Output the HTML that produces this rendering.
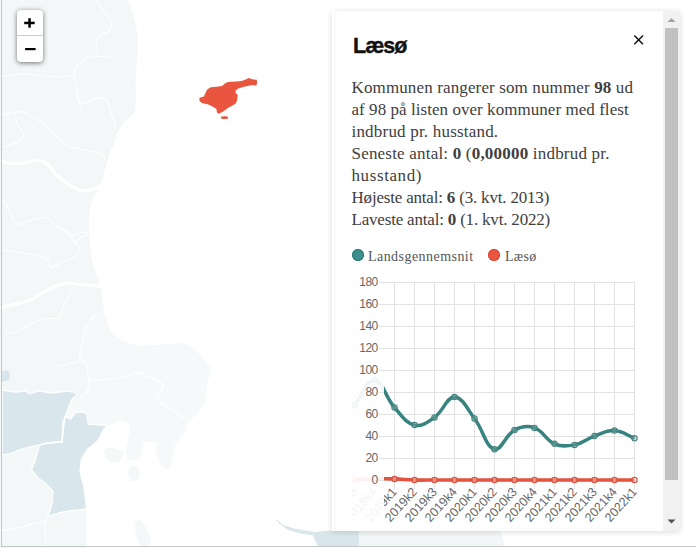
<!DOCTYPE html>
<html><head><meta charset="utf-8">
<style>
html,body{margin:0;padding:0;width:696px;height:548px;overflow:hidden;background:#fff;}
body{position:relative;font-family:"Liberation Sans",sans-serif;}
#map{position:absolute;left:0;top:0;width:696px;height:548px;}
.frameL{position:absolute;left:1px;top:0;width:1px;height:547px;background:#c4c8c9;}
.frameB{position:absolute;left:1px;top:546px;width:695px;height:1px;background:#c4c8c9;}
.zoom{position:absolute;left:17px;top:10px;width:26px;height:52px;background:#fff;border-radius:4px;box-shadow:0 1px 5px rgba(0,0,0,0.55);}
.zoom .div{position:absolute;left:0;top:25px;width:26px;height:1px;background:#ccc;}
.panel{position:absolute;left:332px;top:11px;width:348px;height:520px;background:#fff;box-shadow:0 1px 6px rgba(0,0,0,0.15);overflow:hidden;}
.title{position:absolute;left:21px;top:23px;font:bold 21.5px/24px "Liberation Sans",sans-serif;color:#111;letter-spacing:-1px;white-space:nowrap;-webkit-text-stroke:0.35px #111;}
.body{position:absolute;left:19.5px;top:66px;font:17px/22px "Liberation Serif",serif;color:#404040;white-space:nowrap;}
.body b{font-weight:bold;}
.sb{position:absolute;left:331px;top:0;width:17px;height:520px;background:#f1f1f1;}
.thumb{position:absolute;left:2px;top:17px;width:13px;height:452px;background:#c1c1c1;}
.legend{position:absolute;font:14px/18px "Liberation Serif",serif;color:#555;white-space:nowrap;}
</style></head><body>
<svg id="map" width="696" height="548" viewBox="0 0 696 548">
<polygon points="0,0 128,0 134.5,20 138,37 137,60 135.6,80 136,100 135,110 130,117 124,122 117,133 114,144 110,152 108.4,157 106,165.6 103,176.6 99.7,187.5 93,198.5 90,209.4 88.5,220 89.7,240 92,260 96.5,275 101,290 103.4,305 104,313 110,331 121,340.6 137.5,346 160.5,345 179,343 190,345 197,352 205,361 211,369 208.7,377 206.4,386.6 206,393 204,404.5 195,416 188,420.6 185.7,429.8 181,436.7 175.4,443.6 173,457 169.7,469 165,469 159,462 156,450 158,443 150,441.5 143,442 141.5,452 139,460 133,461 127,459 126,450 128,441 130,432 130.6,425 123.7,420.6 116.8,421.7 110,424.5 107.5,425.5 103.6,429.4 101,434.5 98.5,439.6 93.4,444.7 88.3,448.5 84.5,453.6 81.3,460 80,470 81,475.7 83.8,486.5 85,494.6 86.5,508 86.5,548 0,548" fill="#f3f7f8"/>
<polygon points="94.5,313.8 104,313 110,331 121,340.6 137.5,346 160.5,345 179,343 190,345 197,352 205,361 211,369 208.7,377 206.4,386.6 206,393 204,404.5 195,416 188,420.6 185.7,429.8 181,436.7 175.4,443.6 173,457 169.7,469 165,469 159,462 156,450 158,443 150,441.5 143,442 141.5,452 139,460 133,461 127,459 126,450 128,441 130,432 130.6,425 123.7,420.6 116.8,421.7 110,424.5 107.5,425.5 101,425 93.4,424.3 88.3,424.3 87,414 82,412 75.5,412.8 70.4,419 65.3,416.6 69,406.4 72,399 80.5,397.5 86,393 89,387.5 89,378.9 87.6,373 86.2,364.5 79.7,358.7 80.5,350 81.8,341.4 85.3,327.6" fill="#f6f9fa"/>
<polygon points="104,450 110,447 117,449 123,451 123,457 119,462 112,463 106,459" fill="#f5f8f9"/>
<polygon points="129,468 134,465 139,468 140,475 137,481 131,481 128,475" fill="#f5f8f9"/>
<polygon points="134,522 140,520 147,528 151,540 150,546 140,546 136,535" fill="#f5f8f9"/>
<polygon points="2,390 16,392 25,390.8 30,394 39,390.8 50.6,393 60,392 66.7,390.8 73.6,392 78,394 72,399 69,406.4 65.3,416.6 62.8,421.7 62,442 59,442 47,443 39.4,445 29.5,446.9 19.7,449.8 9.8,453.8 2,454.8" fill="#d9e6eb"/>
<polygon points="65.3,416.6 70.4,419 75.5,412.8 82,412 87,414 88.3,424.3 93.4,424.3 101,425 107.5,425.5 103.6,429.4 101,434.5 98.5,439.6 93.4,444.7 88.3,448.5 84.5,453.6 81.3,460 80,470 81,475.7 83.8,486.5 85,494.6 86.6,508.9 78.7,509.9 68.9,510.9 59,512.8 47.2,516.8 49.2,512.8 52,503 53,491.2 45.3,483.3 37.4,477.4 31.5,469.5 35.4,459.7 39.4,445 47,443 59,442 62,442" fill="#d9e6eb"/>
<polygon points="2,371 8,370 10,374 9,380 2,382" fill="#d9e6eb"/>
<polyline points="94.5,313.8 85.3,327.6 81.8,341.4 80.5,350 79.7,358.7 77.6,361.6 67.5,364.5 58,366.5" fill="none" stroke="#fff" stroke-width="1.1" stroke-linejoin="round"/>
<polyline points="79.7,358.7 86.2,364.5 87.6,373 89,378.9 94.8,380.3 106,379.3 119.8,378.2 133.6,373.6 140.5,372.4 145,375.9 156.6,379.3 163.4,385 161,392 156.6,396.6 161,403.4 170.3,408 179.5,415 186,420" fill="none" stroke="#fff" stroke-width="1.1" stroke-linejoin="round"/>
<polyline points="89,378.9 89,387.5 86,393 80.5,397.5" fill="none" stroke="#fff" stroke-width="1.1" stroke-linejoin="round"/>
<polyline points="97,0 100,6 106,14 111,22 112,28 108,32 100,35 97,38 96,44 97,52 98,56 108,57 112,58" fill="none" stroke="#fff" stroke-width="1.1" stroke-linejoin="round"/>
<polyline points="98,56 90,57 83,59 82,62 76,66 74,70 74,76 76,84 78,94 80,104 82,110" fill="none" stroke="#fff" stroke-width="1.1" stroke-linejoin="round"/>
<polyline points="2,76 9,76 23,73.5 46,76 64,77 74,75" fill="none" stroke="#fff" stroke-width="1.1" stroke-linejoin="round"/>
<polyline points="76,95 79,102 86,103.6 96.5,97.6 107,100 110,108.8 113.8,120.9 116,130" fill="none" stroke="#fff" stroke-width="1.1" stroke-linejoin="round"/>
<polyline points="3,114 7,114 15.5,112 24,112 31,116.6 39.7,120.9 46.6,126 51.7,133 58.6,138 69,146.7 76,148.4 86,150 96.5,152 103.4,155 105,160.5" fill="none" stroke="#fff" stroke-width="1.1" stroke-linejoin="round"/>
<polyline points="15.5,114 17,124 22.4,131 24,136.4 19,141.6 10,145 3.4,146.7" fill="none" stroke="#fff" stroke-width="1.1" stroke-linejoin="round"/>
<polyline points="3,201 8,207.4 12.6,220 20.5,224.8 27,221.6 36.4,218.5 45.8,217 50.6,220 57,226.4 66.4,231 71,237.4 79,232.7 88.5,232.7" fill="none" stroke="#fff" stroke-width="1.1" stroke-linejoin="round"/>
<polyline points="3.3,249.7 16.4,252 24.6,253 32.8,254.6 41,257 47.6,258 49,266 52.5,267.8 60.8,262.8 69,259.6 77,254.6 80.5,249.7 75.5,243 70.6,236.6 67.3,230" fill="none" stroke="#fff" stroke-width="1.1" stroke-linejoin="round"/>
<polyline points="75.5,243 82,236.6 88.7,235" fill="none" stroke="#fff" stroke-width="1.1" stroke-linejoin="round"/>
<polyline points="72.2,290.8 67.3,299 62.4,308.8 59,318.7 46,318.4 32,323 18.4,331 4.6,334.5" fill="none" stroke="#fff" stroke-width="1.1" stroke-linejoin="round"/>
<polyline points="0,530.5 9.8,529.6 19.7,527.6 29.5,524.6 39.4,522.7 45.3,520.7 47.2,516.8" fill="none" stroke="#fff" stroke-width="1.1" stroke-linejoin="round"/>
<polyline points="45.3,520.7 45.3,534.5 46.3,548" fill="none" stroke="#fff" stroke-width="1.1" stroke-linejoin="round"/>
<polyline points="2,390 16,392 25,390.8 30,394 39,390.8 50.6,393 60,392 66.7,390.8 73.6,392 78,394 72,399 69,406.4 65.3,416.6 62.8,421.7 62,442 59,442 47,443 39.4,445 29.5,446.9 19.7,449.8 9.8,453.8 2,454.8 2,390" fill="none" stroke="#fff" stroke-width="1.3" stroke-linejoin="round"/>
<polyline points="65.3,416.6 70.4,419 75.5,412.8 82,412 87,414 88.3,424.3 93.4,424.3 101,425 107.5,425.5 103.6,429.4 101,434.5 98.5,439.6 93.4,444.7 88.3,448.5 84.5,453.6 81.3,460 80,470 81,475.7 83.8,486.5 85,494.6 86.6,508.9 78.7,509.9 68.9,510.9 59,512.8 47.2,516.8 49.2,512.8 52,503 53,491.2 45.3,483.3 37.4,477.4 31.5,469.5 35.4,459.7 39.4,445 47,443 59,442 62,442 65,416" fill="none" stroke="#fff" stroke-width="1.3" stroke-linejoin="round"/>
<polyline points="0,160 7,163 14,164 22,163.5 29,161.5 36,160 41,160.5 47,164 52,169 55.3,174 63.2,180.5 71,186 79,190 88.5,190.8 94.8,189 101,186" fill="none" stroke="#fff" stroke-width="3.2" stroke-linejoin="round" stroke-linecap="round"/>
<polyline points="0,307.5 3.3,307 13,304.7 24.6,302 32.8,299 42.7,292.4 49.3,289 55.8,285.8 62.4,284.2 69,282.5 77,284.2 85.4,285 95.2,285.8 103,286.6" fill="none" stroke="#fff" stroke-width="3.2" stroke-linejoin="round" stroke-linecap="round"/>
<polygon points="358,531 500,531 505,546 358,546" fill="#f2f6f7"/>
<polygon points="275.5,519.5 277,519.5 283,525 294.5,528.5 306,530.8 315,532 326.7,530.8 340,530 359,530 358.5,546 318,546 317,544.5 313,535.3 300,533.5 288,530 279,523" fill="#d9e6eb"/>
<polygon points="199.2,98.7 200.3,97.6 203.8,96.4 207.2,89.5 210.7,87.2 216.4,86.7 222.2,86.1 224.5,83.8 227.9,82.1 236,81.5 241.7,80.9 246.3,79.2 248.6,78 252,79.2 256.7,79.8 257.2,82.6 256.1,86.1 254.4,84.9 249.8,85.5 244,86.7 238.3,88.4 235.4,90.7 236,93.6 237.7,94.7 237.1,99.9 236,103.3 232.5,105.6 227.9,107.9 223.3,111.4 218.7,113.7 217,112.5 216.4,109.1 213,106.8 208.4,104.5 202.6,103.3 199.8,101.6" fill="#e9553f"/>
<ellipse cx="224.5" cy="117.7" rx="3.6" ry="1.4" fill="#e9553f"/>
</svg>
<div class="frameL"></div><div class="frameB"></div>
<div class="zoom"><div class="div"></div>
<svg width="26" height="52" style="position:absolute;left:0;top:0">
<rect x="7.2" y="11.7" width="10.5" height="2.5" fill="#000"/>
<rect x="11.3" y="8.2" width="2.5" height="9.5" fill="#000"/>
<rect x="8.1" y="38" width="10.5" height="2.2" fill="#000"/>
</svg>
</div>
<div class="panel"><div style="position:absolute;left:2px;top:0;width:1px;height:520px;background:#f4f4f4"></div>
<div class="title">Læsø</div>
<svg width="20" height="20" style="position:absolute;left:298px;top:20px" viewBox="0 0 20 20"><path d="M4.3,4.5 L13,13.3 M13,4.5 L4.3,13.3" stroke="#111" stroke-width="1.5" fill="none"/></svg>
<div class="body"><div style="letter-spacing:0.13px">Kommunen rangerer som nummer <b>98</b> ud</div><div style="letter-spacing:0.05px">af 98 på listen over kommuner med flest</div><div style="letter-spacing:0.2px">indbrud pr. husstand.</div><div style="letter-spacing:0.2px">Seneste antal: <b>0</b> (<b>0,00000</b> indbrud pr.</div><div style="letter-spacing:0.6px">husstand)</div><div style="letter-spacing:-0.19px">Højeste antal: <b>6</b> (3. kvt. 2013)</div><div style="letter-spacing:-0.19px">Laveste antal: <b>0</b> (1. kvt. 2022)</div></div>
<div class="sb"><div class="thumb"></div>
<svg width="17" height="520" style="position:absolute;left:0;top:0"><path d="M4.5,11 L8.5,7 L12.5,11 Z" fill="#a3a3a3"/><path d="M4.5,508.5 L8.5,512.5 L12.5,508.5 Z" fill="#505050"/></svg>
</div>
</div>
<svg id="chart" width="696" height="548" viewBox="0 0 696 548" style="position:absolute;left:0;top:0">
<defs><clipPath id="cc"><rect x="352" y="260" width="290" height="270"/></clipPath><clipPath id="pa"><rect x="352" y="270" width="284" height="220"/></clipPath></defs>
<g clip-path="url(#cc)">
<g fill="#e2e2e2"><rect x="352" y="282" width="283" height="1"/><rect x="352" y="304" width="283" height="1"/><rect x="352" y="326" width="283" height="1"/><rect x="352" y="348" width="283" height="1"/><rect x="352" y="370" width="283" height="1"/><rect x="352" y="392" width="283" height="1"/><rect x="352" y="414" width="283" height="1"/><rect x="352" y="436" width="283" height="1"/><rect x="352" y="458" width="283" height="1"/><rect x="352" y="480" width="283" height="1"/><rect x="354" y="282" width="1" height="207"/><rect x="374" y="282" width="1" height="207"/><rect x="394" y="282" width="1" height="207"/><rect x="414" y="282" width="1" height="207"/><rect x="434" y="282" width="1" height="207"/><rect x="454" y="282" width="1" height="207"/><rect x="474" y="282" width="1" height="207"/><rect x="494" y="282" width="1" height="207"/><rect x="514" y="282" width="1" height="207"/><rect x="534" y="282" width="1" height="207"/><rect x="554" y="282" width="1" height="207"/><rect x="574" y="282" width="1" height="207"/><rect x="594" y="282" width="1" height="207"/><rect x="614" y="282" width="1" height="207"/><rect x="634" y="282" width="1" height="207"/></g>
<g clip-path="url(#pa)">
<path d="M354.5,405.3 C362.5,395.2 366.7,379.7 374.5,380.1 C382.7,380.6 385.5,397.5 394.5,407.5 C401.5,415.5 405.6,422.9 414.5,425.1 C421.6,426.9 427.6,422.2 434.5,417.4 C443.6,411.0 446.6,396.9 454.5,397.1 C462.6,397.3 467.4,409.3 474.5,418.5 C483.4,430.1 485.4,446.6 494.5,449.3 C501.4,451.2 505.2,435.0 514.5,430.1 C521.2,426.4 527.5,425.4 534.5,427.9 C543.5,430.9 545.5,440.0 554.5,443.8 C561.5,446.8 566.8,446.3 574.5,444.9 C582.8,443.3 586.3,439.0 594.5,436.1 C602.3,433.3 606.6,430.2 614.5,430.6 C622.6,431.0 626.5,435.2 634.5,438.3" fill="none" stroke="#37837f" stroke-width="3.5"/>
<path d="M354.5,480.0 C362.5,479.6 366.5,479.1 374.5,478.9 C382.5,478.7 386.5,478.7 394.5,478.9 C402.5,479.1 406.5,479.8 414.5,480.0 C422.5,480.2 426.5,480.0 434.5,480.0 C442.5,480.0 446.5,480.0 454.5,480.0 C462.5,480.0 466.5,480.0 474.5,480.0 C482.5,480.0 486.5,480.0 494.5,480.0 C502.5,480.0 506.5,480.0 514.5,480.0 C522.5,480.0 526.5,480.0 534.5,480.0 C542.5,480.0 546.5,480.0 554.5,480.0 C562.5,480.0 566.5,480.0 574.5,480.0 C582.5,480.0 586.5,480.0 594.5,480.0 C602.5,480.0 606.5,480.0 614.5,480.0 C622.5,480.0 626.5,480.0 634.5,480.0" fill="none" stroke="#e4533f" stroke-width="3.6"/>
</g>
<circle cx="354.5" cy="405.3" r="2.7" fill="rgba(120,180,176,0.35)" stroke="#4a817e" stroke-width="1.1"/>
<circle cx="374.5" cy="380.1" r="2.7" fill="rgba(120,180,176,0.35)" stroke="#4a817e" stroke-width="1.1"/>
<circle cx="394.5" cy="407.5" r="2.7" fill="rgba(120,180,176,0.35)" stroke="#4a817e" stroke-width="1.1"/>
<circle cx="414.5" cy="425.1" r="2.7" fill="rgba(120,180,176,0.35)" stroke="#4a817e" stroke-width="1.1"/>
<circle cx="434.5" cy="417.4" r="2.7" fill="rgba(120,180,176,0.35)" stroke="#4a817e" stroke-width="1.1"/>
<circle cx="454.5" cy="397.1" r="2.7" fill="rgba(120,180,176,0.35)" stroke="#4a817e" stroke-width="1.1"/>
<circle cx="474.5" cy="418.5" r="2.7" fill="rgba(120,180,176,0.35)" stroke="#4a817e" stroke-width="1.1"/>
<circle cx="494.5" cy="449.3" r="2.7" fill="rgba(120,180,176,0.35)" stroke="#4a817e" stroke-width="1.1"/>
<circle cx="514.5" cy="430.1" r="2.7" fill="rgba(120,180,176,0.35)" stroke="#4a817e" stroke-width="1.1"/>
<circle cx="534.5" cy="427.9" r="2.7" fill="rgba(120,180,176,0.35)" stroke="#4a817e" stroke-width="1.1"/>
<circle cx="554.5" cy="443.8" r="2.7" fill="rgba(120,180,176,0.35)" stroke="#4a817e" stroke-width="1.1"/>
<circle cx="574.5" cy="444.9" r="2.7" fill="rgba(120,180,176,0.35)" stroke="#4a817e" stroke-width="1.1"/>
<circle cx="594.5" cy="436.1" r="2.7" fill="rgba(120,180,176,0.35)" stroke="#4a817e" stroke-width="1.1"/>
<circle cx="614.5" cy="430.6" r="2.7" fill="rgba(120,180,176,0.35)" stroke="#4a817e" stroke-width="1.1"/>
<circle cx="634.5" cy="438.3" r="2.7" fill="rgba(120,180,176,0.35)" stroke="#4a817e" stroke-width="1.1"/>
<circle cx="354.5" cy="480.0" r="2.7" fill="rgba(250,200,190,0.45)" stroke="#d24c3c" stroke-width="1.1"/>
<circle cx="374.5" cy="478.9" r="2.7" fill="rgba(250,200,190,0.45)" stroke="#d24c3c" stroke-width="1.1"/>
<circle cx="394.5" cy="478.9" r="2.7" fill="rgba(250,200,190,0.45)" stroke="#d24c3c" stroke-width="1.1"/>
<circle cx="414.5" cy="480.0" r="2.7" fill="rgba(250,200,190,0.45)" stroke="#d24c3c" stroke-width="1.1"/>
<circle cx="434.5" cy="480.0" r="2.7" fill="rgba(250,200,190,0.45)" stroke="#d24c3c" stroke-width="1.1"/>
<circle cx="454.5" cy="480.0" r="2.7" fill="rgba(250,200,190,0.45)" stroke="#d24c3c" stroke-width="1.1"/>
<circle cx="474.5" cy="480.0" r="2.7" fill="rgba(250,200,190,0.45)" stroke="#d24c3c" stroke-width="1.1"/>
<circle cx="494.5" cy="480.0" r="2.7" fill="rgba(250,200,190,0.45)" stroke="#d24c3c" stroke-width="1.1"/>
<circle cx="514.5" cy="480.0" r="2.7" fill="rgba(250,200,190,0.45)" stroke="#d24c3c" stroke-width="1.1"/>
<circle cx="534.5" cy="480.0" r="2.7" fill="rgba(250,200,190,0.45)" stroke="#d24c3c" stroke-width="1.1"/>
<circle cx="554.5" cy="480.0" r="2.7" fill="rgba(250,200,190,0.45)" stroke="#d24c3c" stroke-width="1.1"/>
<circle cx="574.5" cy="480.0" r="2.7" fill="rgba(250,200,190,0.45)" stroke="#d24c3c" stroke-width="1.1"/>
<circle cx="594.5" cy="480.0" r="2.7" fill="rgba(250,200,190,0.45)" stroke="#d24c3c" stroke-width="1.1"/>
<circle cx="614.5" cy="480.0" r="2.7" fill="rgba(250,200,190,0.45)" stroke="#d24c3c" stroke-width="1.1"/>
<circle cx="634.5" cy="480.0" r="2.7" fill="rgba(250,200,190,0.45)" stroke="#d24c3c" stroke-width="1.1"/>
<g font-family="Liberation Sans" font-size="12.5" fill="#666"><text x="355.3" y="490" transform="rotate(-48 355.3 490)" text-anchor="end" dominant-baseline="middle">2018k3</text><text x="375.3" y="490" transform="rotate(-48 375.3 490)" text-anchor="end" dominant-baseline="middle">2018k4</text><text x="395.3" y="490" transform="rotate(-48 395.3 490)" text-anchor="end" dominant-baseline="middle">2019k1</text><text x="415.3" y="490" transform="rotate(-48 415.3 490)" text-anchor="end" dominant-baseline="middle">2019k2</text><text x="435.3" y="490" transform="rotate(-48 435.3 490)" text-anchor="end" dominant-baseline="middle">2019k3</text><text x="455.3" y="490" transform="rotate(-48 455.3 490)" text-anchor="end" dominant-baseline="middle">2019k4</text><text x="475.3" y="490" transform="rotate(-48 475.3 490)" text-anchor="end" dominant-baseline="middle">2020k1</text><text x="495.3" y="490" transform="rotate(-48 495.3 490)" text-anchor="end" dominant-baseline="middle">2020k2</text><text x="515.3" y="490" transform="rotate(-48 515.3 490)" text-anchor="end" dominant-baseline="middle">2020k3</text><text x="535.3" y="490" transform="rotate(-48 535.3 490)" text-anchor="end" dominant-baseline="middle">2020k4</text><text x="555.3" y="490" transform="rotate(-48 555.3 490)" text-anchor="end" dominant-baseline="middle">2021k1</text><text x="575.3" y="490" transform="rotate(-48 575.3 490)" text-anchor="end" dominant-baseline="middle">2021k2</text><text x="595.3" y="490" transform="rotate(-48 595.3 490)" text-anchor="end" dominant-baseline="middle">2021k3</text><text x="615.3" y="490" transform="rotate(-48 615.3 490)" text-anchor="end" dominant-baseline="middle">2021k4</text><text x="635.3" y="490" transform="rotate(-48 635.3 490)" text-anchor="end" dominant-baseline="middle">2022k1</text></g>
</g>
<rect x="352" y="266" width="32" height="264" fill="#fff" fill-opacity="0.92"/>
<g font-family="Liberation Sans" font-size="12" fill="#666" letter-spacing="-0.5"><rect x="379" y="282" width="5" height="1" fill="#e2e2e2"/><text x="377.8" y="286.3" text-anchor="end">180</text><rect x="379" y="304" width="5" height="1" fill="#e2e2e2"/><text x="377.8" y="308.3" text-anchor="end">160</text><rect x="379" y="326" width="5" height="1" fill="#e2e2e2"/><text x="377.8" y="330.3" text-anchor="end">140</text><rect x="379" y="348" width="5" height="1" fill="#e2e2e2"/><text x="377.8" y="352.3" text-anchor="end">120</text><rect x="379" y="370" width="5" height="1" fill="#e2e2e2"/><text x="377.8" y="374.3" text-anchor="end">100</text><rect x="379" y="392" width="5" height="1" fill="#e2e2e2"/><text x="377.8" y="396.3" text-anchor="end">80</text><rect x="379" y="414" width="5" height="1" fill="#e2e2e2"/><text x="377.8" y="418.3" text-anchor="end">60</text><rect x="379" y="436" width="5" height="1" fill="#e2e2e2"/><text x="377.8" y="440.3" text-anchor="end">40</text><rect x="379" y="458" width="5" height="1" fill="#e2e2e2"/><text x="377.8" y="462.3" text-anchor="end">20</text><rect x="379" y="480" width="5" height="1" fill="#e2e2e2"/><text x="377.8" y="484.3" text-anchor="end">0</text></g>
</svg>
<div class="legend" style="left:352px;top:249px"><span style="position:absolute;left:0;top:0;width:12px;height:12px;border-radius:50%;background:#3e8e8c;box-shadow:inset 0 0 0 1px #2f7a78"></span><span style="position:absolute;left:16px;top:-1px;letter-spacing:0.45px">Landsgennemsnit</span><span style="position:absolute;left:136px;top:0;width:12px;height:12px;border-radius:50%;background:#e9553f;box-shadow:inset 0 0 0 1px #d9483a"></span><span style="position:absolute;left:153px;top:-1px;letter-spacing:0.3px">Læsø</span></div>
</body></html>
